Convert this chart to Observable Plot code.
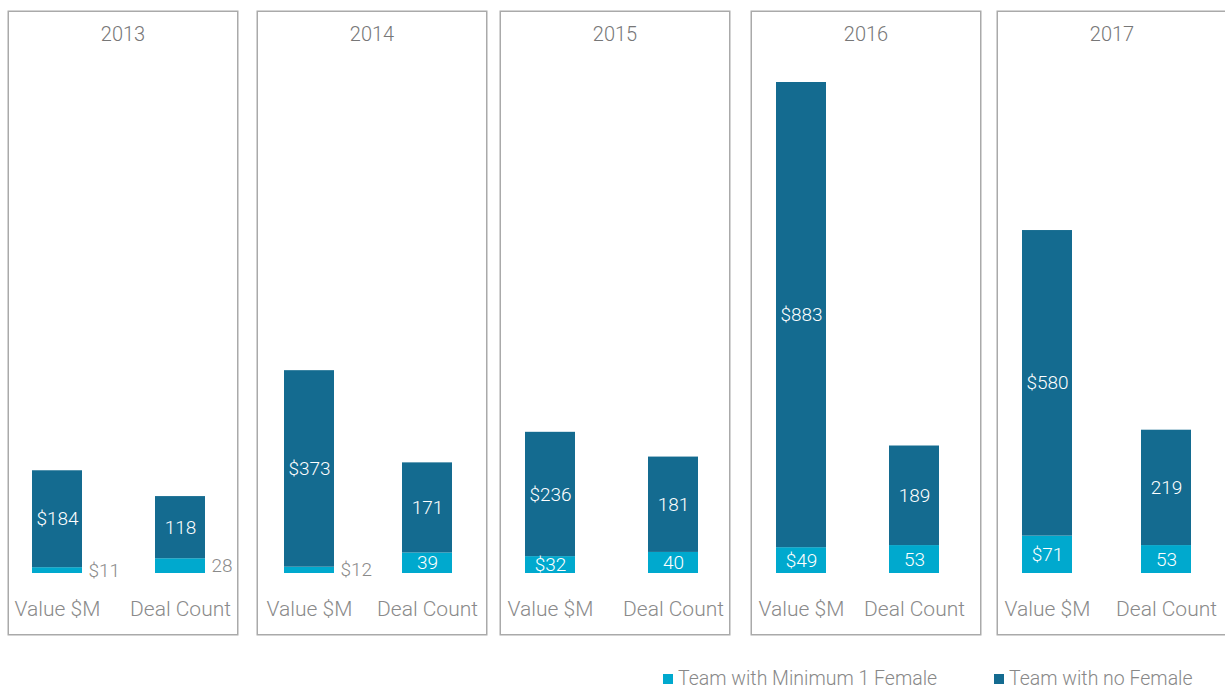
<!DOCTYPE html>
<html>
<head>
<meta charset="utf-8">
<script src="https://cdn.jsdelivr.net/npm/d3@7"></script>
<script src="https://cdn.jsdelivr.net/npm/@observablehq/plot@0.6"></script>
<style>
  html, body { margin: 0; padding: 0; background: #fff; overflow: hidden; width: 1225px; height: 690px; }
  body { position: relative; font-family: Roboto, "Noto Sans", sans-serif; font-weight: 300; }
  .panel { position: absolute; top: 10px; width: 231px; }
  .panel svg { max-width: none !important; display: block; }
  .legend { position: absolute; top: 667px; font-size: 19.5px; color: #888; display: flex; align-items: center; white-space: nowrap; }
  .legend .sw { width: 10px; height: 10px; margin-right: 5px; display: inline-block; }
</style>
</head>
<body>
<div id="root"></div>
<script>
// ---- data ----
const years = [2013, 2014, 2015, 2016, 2017];
const categories = ["Value $M", "Deal Count"];
const series = ["Team with Minimum 1 Female", "Team with no Female"];
const valueMin1Female = [11, 12, 32, 49, 71];
const valueNoFemale = [184, 373, 236, 883, 580];
const countMin1Female = [28, 39, 40, 53, 53];
const countNoFemale = [118, 171, 181, 189, 219];

// ---- layout / style ----
const colors = ["#00a9ce", "#146b90"];
const panelLefts = [7, 256, 499, 750, 996];
const barLefts = [[25, 148], [28, 146], [26, 149], [26, 139], [26, 145]];
const panelW = 231, panelH = 625;
const baseY = 563, topY = 72, yMax = 932;
const barW = 50;
const fontFam = "Roboto, 'Noto Sans', sans-serif";

const root = document.getElementById("root");

years.forEach((year, i) => {
  const rows = [
    {cat: categories[0], series: series[0], value: valueMin1Female[i], label: "$" + valueMin1Female[i]},
    {cat: categories[0], series: series[1], value: valueNoFemale[i], label: "$" + valueNoFemale[i]},
    {cat: categories[1], series: series[0], value: countMin1Female[i], label: String(countMin1Female[i])},
    {cat: categories[1], series: series[1], value: countNoFemale[i], label: String(countNoFemale[i])}
  ];
  const inside = d => d.series === series[1] || d.value >= 30;
  const [b0, b1] = barLefts[i];
  const p = 1 - barW / (b1 - b0); // paddingInner so bars are barW wide and start at b0, b1
  const plot = Plot.plot({
    width: panelW,
    height: panelH,
    margin: 0,
    style: {fontFamily: fontFam, fontWeight: 300, background: "transparent", overflow: "visible", maxWidth: "none"},
    x: {domain: categories, range: [b0, b1 + barW], paddingInner: p, paddingOuter: 0, axis: null},
    y: {domain: [0, yMax], range: [baseY, topY], axis: null},
    color: {domain: series, range: colors},
    marks: [
      Plot.frame({stroke: "#aaa", strokeWidth: 1.5, inset: 0.75}),
      Plot.barY(rows, {x: "cat", y: "value", fill: "series", inset: 0}),
      Plot.text(rows, Plot.stackY({x: "cat", y: "value", text: d => inside(d) ? d.label : "", fill: "white", fontSize: 19})),
      Plot.text(rows, Plot.stackY({x: "cat", y: "value", text: d => inside(d) ? "" : d.label, fill: "#8a8a8a", fontSize: 19, textAnchor: "start", dx: barW / 2 + 6})),
      Plot.text(categories, {x: d => d, frameAnchor: "bottom", lineAnchor: "middle", dy: -26, text: d => d, fill: "#8a8a8a", fontSize: 21}),
      Plot.text([year], {frameAnchor: "top", lineAnchor: "middle", dy: 24, text: d => String(d), fill: "#777", fontSize: 20})
    ]
  });
  const div = document.createElement("div");
  div.className = "panel";
  div.style.left = panelLefts[i] + "px";
  div.appendChild(plot);
  root.appendChild(div);
});

// legend
const legendLefts = [663, 994];
series.forEach((s, k) => {
  const lg = document.createElement("div");
  lg.className = "legend";
  lg.style.left = legendLefts[k] + "px";
  const sw = document.createElement("span");
  sw.className = "sw";
  sw.style.background = colors[k];
  const tx = document.createElement("span");
  tx.textContent = s;
  lg.appendChild(sw);
  lg.appendChild(tx);
  document.body.appendChild(lg);
});
</script>
</body>
</html>
